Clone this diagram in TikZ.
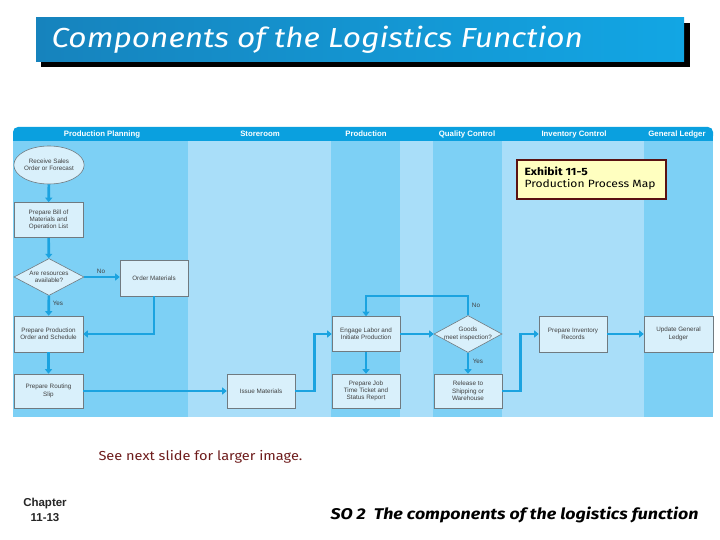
\documentclass[tikz,border=0pt]{standalone}
\usepackage{fontspec}
\setmainfont{Liberation Sans}
\newfontfamily\comicf{Fira Sans}[FakeStretch=1.15]
\newfontfamily\comicg{Fira Sans}[FakeStretch=1.12]
\usetikzlibrary{shapes.geometric,arrows.meta}
\definecolor{lanelight}{HTML}{A9DEF9}
\definecolor{lanemed}{HTML}{7DD0F5}
\definecolor{headc}{HTML}{0AA0DF}
\definecolor{boxfill}{HTML}{D9F0FB}
\definecolor{boxline}{HTML}{707A80}
\definecolor{arrc}{HTML}{1BA3E0}
\definecolor{titleA}{HTML}{1683BD}
\definecolor{titleB}{HTML}{12A6E4}
\definecolor{exfill}{HTML}{FFFFC0}
\definecolor{exline}{HTML}{5A1212}
\definecolor{seec}{HTML}{6E1C1C}
\tikzset{
  pbox/.style={draw=boxline, line width=0.6pt, fill=boxfill, align=center, inner sep=1pt,
     font=\fontsize{6.3}{7.3}\selectfont, text=black!75},
  dbox/.style={draw=boxline, line width=0.6pt, fill=boxfill, diamond, inner sep=0pt},
  flow/.style={draw=arrc, line width=2.6pt, -{Triangle[length=4.5pt,width=7pt]}},
  lanehead/.style={text=white, font=\bfseries\fontsize{7.8}{9}\selectfont, text height=6pt, text depth=1.5pt, inner sep=0pt},
  lbl/.style={font=\fontsize{6.3}{7.3}\selectfont, text=black!75, align=center}
}
\begin{document}
\begin{tikzpicture}[x=1pt,y=-1pt]
\useasboundingbox (0,0) rectangle (720,540);
\fill[white] (0,0) rectangle (720,540);
% title
\fill[black] (41,23) rectangle (690,67);
\shade[left color=titleA, right color=titleB] (36,18) rectangle (684,62);
\node[anchor=west, text=white, font=\comicf\itshape\fontsize{27.5}{29}\selectfont] (title) at (48,40) {Components of the Logistics Function};
% lanes
\fill[lanemed] (13,140) rectangle (188,417);
\fill[lanelight] (188,140) rectangle (331,417);
\fill[lanemed] (331,140) rectangle (400,417);
\fill[lanelight] (400,140) rectangle (433,417);
\fill[lanemed] (433,140) rectangle (502,417);
\fill[lanelight] (502,140) rectangle (644,417);
\fill[lanemed] (644,140) rectangle (713,417);
\fill[headc, rounded corners=5pt] (13,127) rectangle (713,141);
\fill[headc] (13,135) rectangle (713,141);
\node[lanehead] (h1) at (102,134) {Production Planning};
\node[lanehead] (h2) at (260,134) {Storeroom};
\node[lanehead] (h3) at (366,134) {Production};
\node[lanehead] (h4) at (467,134) {Quality Control};
\node[lanehead] (h5) at (574,134) {Inventory Control};
\node[lanehead] (h6) at (677,134) {General Ledger};
% nodes
\node[pbox, ellipse, minimum width=70pt, minimum height=38pt, inner sep=0pt] (rcv) at (49,165) {Receive Sales\\Order or Forecast};
\node[pbox, minimum width=69pt, minimum height=35pt] (bom) at (48.5,220) {Prepare Bill of\\Materials and\\Operation List};
\node[dbox, minimum width=70pt, minimum height=37pt] (d1) at (49,277) {};
\node[lbl] (d1t) at (d1) {Are resources\\available?};
\node[pbox, minimum width=68pt, minimum height=36pt] (om) at (154,278) {Order Materials};
\node[pbox, minimum width=69pt, minimum height=36pt] (ppos) at (48.5,334) {Prepare Production\\Order and Schedule};
\node[pbox, minimum width=69pt, minimum height=34pt] (prs) at (48.5,391) {Prepare Routing\\Slip};
\node[pbox, minimum width=68pt, minimum height=34pt] (im) at (261,391) {Issue Materials};
\node[pbox, minimum width=68pt, minimum height=35pt] (el) at (366,334) {Engage Labor and\\Initiate Production};
\node[pbox, minimum width=68pt, minimum height=34pt] (pj) at (366,391) {Prepare Job\\Time Ticket and\\Status Report};
\node[dbox, minimum width=68pt, minimum height=37pt] (d2) at (468,334) {};
\node[lbl] (d2t) at (d2) {Goods\\meet inspection?};
\node[pbox, minimum width=68pt, minimum height=34pt] (rel) at (468,391) {Release to\\Shipping or\\Warehouse};
\node[pbox, minimum width=68pt, minimum height=36pt] (pir) at (573,334) {Prepare Inventory\\Records};
\node[pbox, minimum width=69pt, minimum height=36pt] (ugl) at (678.5,334) {Update General\\Ledger};
% connectors
\draw[flow] (rcv) -- (bom);
\draw[flow] (bom) -- (d1);
\draw[flow] (d1.east) -- (om.west |- d1.east);
\draw[flow] (d1) -- (ppos);
\draw[flow] (om.south) |- (ppos.east);
\draw[flow] (ppos) -- (prs);
\draw[flow] (prs) -- (im);
\draw[flow] (im.east) -- ++(19,0) |- (el.west);
\draw[flow] (el) -- (pj);
\draw[flow] (el) -- (d2);
\draw[flow] (d2.north) |- (407,296) -| (el.north);
\draw[flow] (d2) -- (rel);
\draw[flow] (rel.east) -- ++(18,0) |- (pir.west);
\draw[flow] (pir) -- (ugl);
\node[lbl] (no1) at (101,271) {No};
\node[lbl] (yes1) at (58,303) {Yes};
\node[lbl] (no2) at (476,305) {No};
\node[lbl] (yes2) at (478,361) {Yes};
% exhibit
\node[draw=exline, line width=1.6pt, fill=exfill, minimum width=149pt, minimum height=39pt, anchor=north west, inner sep=0pt] (ex) at (516,159) {};
\node[anchor=west, align=left, font=\comicf\fontsize{10.5}{12.5}\selectfont, text=black] (ext) at (521,178.5) {\textbf{Exhibit 11-5}\\Production Process Map};
% bottom
\node[anchor=west, text=seec, font=\comicg\fontsize{13}{15}\selectfont] (see) at (95,457) {See next slide for larger image.};
\node[align=center, font=\bfseries\fontsize{11.5}{15}\selectfont, text=black!85] (chap) at (45,510) {Chapter\\11-13};
\node[anchor=west, font=\comicf\bfseries\itshape\fontsize{15.5}{17}\selectfont] (so) at (327,515) {SO 2\ \ The components of the logistics function};
\end{tikzpicture}
\end{document}
